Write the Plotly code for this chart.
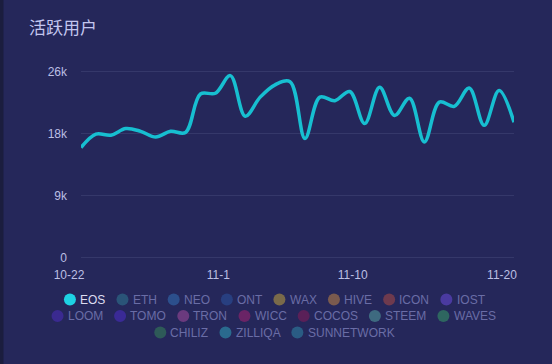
import plotly.graph_objects as go

# ---------------- data ----------------
dates = ["10-22", "10-23", "10-24", "10-25", "10-26", "10-27", "10-28", "10-29", "10-30", "10-31",
         "11-1", "11-2", "11-3", "11-4", "11-5", "11-6", "11-7", "11-8", "11-9", "11-10",
         "11-11", "11-12", "11-13", "11-14", "11-15", "11-16", "11-17", "11-18", "11-19", "11-20"]
eos_users = [15600, 17500, 17350, 18300, 17900, 17100, 17900, 17750, 23200, 23300,
             25800, 20050, 22750, 24500, 24950, 16900, 22750, 22250, 23550, 19000,
             24150, 20150, 22600, 16400, 22050, 21450, 24050, 18750, 23700, 19200]
x_tick_labels = ["10-22", "11-1", "11-10", "11-20"]
y_tick_values = [0, 8800, 17600, 26400]
y_tick_labels = ["0", "9k", "18k", "26k"]
series_names = ["EOS", "ETH", "NEO", "ONT", "WAX", "HIVE", "ICON", "IOST",
                "LOOM", "TOMO", "TRON", "WICC", "COCOS", "STEEM", "WAVES",
                "CHILIZ", "ZILLIQA", "SUNNETWORK"]
series_colors = ["#1ed2e4", "#2a5478", "#2c4f8c", "#283f80", "#7a6a4a", "#7a5a4e", "#6e3a4e", "#4a3aa0",
                 "#3a2a90", "#3a2a96", "#6a3a7e", "#6a2466", "#5a2058", "#3e6a80", "#2e6660",
                 "#2e5a58", "#2a6a8e", "#2a5c84"]
active_series = "EOS"
title_text = "活跃用户"

# ---------------- styling ----------------
W, H = 552, 364
ML, MR, MT, MB = 81, 38, 70, 105
PW, PH = W - ML - MR, H - MT - MB
BG = "#25275a"
LINE = "#17bfd1"
LABEL = "#bcbfe4"
DIM_TEXT = "#6a6da6"
ACTIVE_TEXT = "#dcdcf0"
GRID = "#35386a"
YPAD = 200  # small range padding so edge gridlines are drawn


def px_x(px):
    return (px - ML) / PW


def px_y(py):
    return (H - MB - py) / PH


fig = go.Figure()
fig.add_trace(go.Scatter(
    x=dates, y=eos_users, mode="lines", name=active_series,
    line=dict(color=LINE, width=3.5, shape="spline", smoothing=1),
    showlegend=False, hoverinfo="x+y",
))

# ---------------- custom flow legend ----------------
ARIAL = {"A": 667, "B": 667, "C": 722, "D": 722, "E": 667, "F": 611, "G": 778, "H": 722,
         "I": 278, "J": 500, "K": 667, "L": 556, "M": 833, "N": 722, "O": 778, "P": 667,
         "Q": 778, "R": 722, "S": 667, "T": 611, "U": 722, "V": 667, "W": 944, "X": 667,
         "Y": 667, "Z": 611}
FS = 12


def tw(s):
    return sum(ARIAL.get(c, 667) for c in s) * FS / 1000


ICON_R = 6
TEXT_OFF = 15.7   # from item left edge to text start
ITEM_GAP = 11.5
MAX_ROW = 460

rows, cur, cur_w = [], [], 0
for name, col in zip(series_names, series_colors):
    w = TEXT_OFF + tw(name)
    add = w if not cur else w + ITEM_GAP
    if cur and cur_w + add > MAX_ROW:
        rows.append((cur, cur_w))
        cur, cur_w = [], 0
        add = w
    cur.append((name, col, w))
    cur_w += add
rows.append((cur, cur_w))

shapes = [dict(type="rect", xref="paper", yref="paper", layer="below",
               x0=px_x(0), x1=px_x(3.5), y0=px_y(H), y1=px_y(0),
               fillcolor="#1b1d3e", line=dict(width=0))]
annotations = []
ROW_Y0, ROW_STEP = 299.5, 16.5
for r, (items, row_w) in enumerate(rows):
    y = ROW_Y0 + r * ROW_STEP
    x = W / 2 - row_w / 2 - 2
    for name, col, w in items:
        active = name == active_series
        shapes.append(dict(type="circle", xref="paper", yref="paper",
                           xsizemode="pixel", ysizemode="pixel",
                           xanchor=px_x(x + ICON_R), yanchor=px_y(y),
                           x0=-ICON_R, x1=ICON_R, y0=-ICON_R, y1=ICON_R,
                           fillcolor=col, line=dict(width=0)))
        annotations.append(dict(text=name, xref="paper", yref="paper",
                                x=px_x(x + TEXT_OFF - 1.5), y=px_y(y),
                                xanchor="left", yanchor="middle", showarrow=False,
                                font=dict(family="Liberation Sans, Arial, sans-serif", size=FS,
                                          color=ACTIVE_TEXT if active else DIM_TEXT)))
        x += w + ITEM_GAP

fig.update_layout(
    width=W, height=H,
    margin=dict(l=ML, r=MR, t=MT, b=MB, pad=0),
    paper_bgcolor=BG, plot_bgcolor=BG,
    title=dict(text=title_text, x=29 / W, xref="container", xanchor="left",
               y=1 - 28 / H, yref="container", yanchor="middle",
               font=dict(family="Noto Sans CJK SC, sans-serif", size=17, color="#c3c6ef")),
    font=dict(family="Liberation Sans, Arial, sans-serif", size=12, color=LABEL),
    shapes=shapes, annotations=annotations,
    showlegend=False,
)
fig.update_xaxes(type="category", range=[0, len(dates) - 1],
                 tickmode="array", tickvals=x_tick_labels, ticktext=x_tick_labels,
                 showgrid=False, zeroline=False, showline=False, ticks="",
                 ticklabelshift=-12, ticklabelstandoff=7,
                 tickfont=dict(size=12, color=LABEL))
fig.update_yaxes(range=[-YPAD, y_tick_values[-1] + YPAD], tickmode="array",
                 tickvals=y_tick_values, ticktext=y_tick_labels,
                 showgrid=True, gridcolor=GRID, gridwidth=1, zeroline=False,
                 showline=False, ticks="", ticklabelstandoff=13,
                 tickfont=dict(size=12, color=LABEL))

fig.write_html("out.html", config={"displayModeBar": False},
               post_script="document.body.style.margin='0';document.body.style.background='%s';" % BG)
